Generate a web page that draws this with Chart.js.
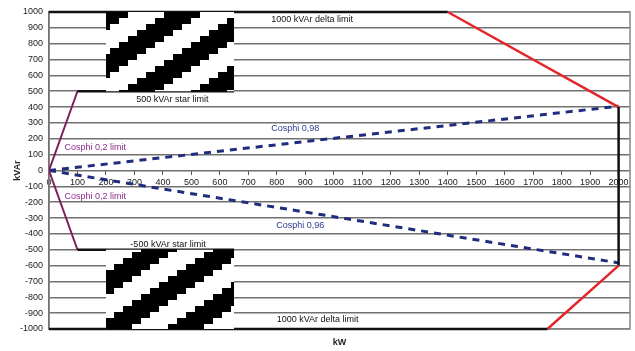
<!DOCTYPE html>
<html>
<head>
<meta charset="utf-8">
<script src="https://cdn.jsdelivr.net/npm/chart.js@4.4.0/dist/chart.umd.min.js"></script>
<style>
  html, body { margin: 0; padding: 0; background: #fff; }
  #wrap { width: 635px; height: 351px; }
</style>
</head>
<body>
<div id="wrap"><canvas id="chart" width="635" height="351"></canvas></div>
<script>
// P/Q limits (kW / kVAr)
const deltaP = [0, 1400, 2000, 2000, 1750, 0];
const deltaQ = [1000, 1000, 400, -600, -1000, -1000];
const starP = [100, 650];
const starTopQ = [500, 500];
const starBottomQ = [-500, -500];
const cos02P = [100, 0, 100];
const cos02Q = [500, 0, -500];
const cosP = [0, 2000];
const cos098Q = [0, 406];
const cos096Q = [0, -583];
const hatchP = [200, 650];
const hatchTopQ = [1000, 1000];
const hatchBottomQ = [-1000, -1000];

const xTicks = [0, 100, 200, 300, 400, 500, 600, 700, 800, 900, 1000, 1100, 1200, 1300, 1400, 1500, 1600, 1700, 1800, 1900, 2000];
const yTicks = [-1000, -900, -800, -700, -600, -500, -400, -300, -200, -100, 0, 100, 200, 300, 400, 500, 600, 700, 800, 900, 1000];

const pts = (xs, ys) => xs.map((x, i) => ({ x: x, y: ys[i] }));

const canvas = document.getElementById('chart');
const mainCtx = canvas.getContext('2d');

// stair-stepped diagonal hatch like the pasted picture
function hatchPattern(shift) {
  const c = document.createElement('canvas');
  c.width = 72; c.height = 48;
  const g = c.getContext('2d');
  g.fillStyle = '#fff';
  g.fillRect(0, 0, 72, 48);
  g.fillStyle = '#000';
  for (let r = 0; r < 8; r++) {
    const x0 = ((shift - r * 9) % 72 + 72) % 72;
    g.fillRect(x0, r * 6, 36, 6);
    g.fillRect(x0 - 72, r * 6, 36, 6);
  }
  return mainCtx.createPattern(c, 'repeat');
}

const FONT = 'Liberation Sans, Arial, sans-serif';

// text labels on the chart (data coordinates)
const notes = [
  { text: '1000 kVAr delta limit', x: 924, y: 950, color: '#111' },
  { text: '500 kVAr star limit', x: 433, y: 451, color: '#111' },
  { text: 'Cosphi 0,98', x: 865, y: 268, color: '#2b3990' },
  { text: 'Cosphi 0,2 limit', x: 162, y: 146, color: '#8e2c8e' },
  { text: 'Cosphi 0,2 limit', x: 162, y: -167, color: '#8e2c8e' },
  { text: 'Cosphi 0,96', x: 882, y: -350, color: '#2b3990' },
  { text: '-500 kVAr star limit', x: 418, y: -470, color: '#111' },
  { text: '1000 kVAr delta limit', x: 943, y: -943, color: '#111' }
];

const annotate = {
  id: 'annotate',
  beforeDatasetsDraw(chart) {
    const { ctx, chartArea: a } = chart;
    ctx.save();
    ctx.strokeStyle = '#888';
    ctx.lineWidth = 1.5;
    ctx.strokeRect(a.left, a.top, a.right - a.left, a.bottom - a.top);
    ctx.restore();
  },
  afterDatasetsDraw(chart) {
    const { ctx, chartArea: a, scales } = chart;
    ctx.save();
    ctx.font = '9px ' + FONT;
    ctx.textAlign = 'center';
    ctx.textBaseline = 'middle';
    notes.forEach(n => {
      ctx.fillStyle = n.color;
      ctx.fillText(n.text, scales.x.getPixelForValue(n.x), scales.y.getPixelForValue(n.y));
    });
    ctx.fillStyle = '#222';
    ctx.font = 'bold 9px ' + FONT;
    ctx.fillText('kW', (a.left + a.right) / 2, a.bottom + 14);
    ctx.restore();
  }
};

new Chart(canvas, {
  type: 'scatter',
  data: {
    datasets: [
      { data: pts(hatchP, hatchTopQ), showLine: true, borderWidth: 0, fill: { value: 500 }, backgroundColor: hatchPattern(38) },
      { data: pts(hatchP, hatchBottomQ), showLine: true, borderWidth: 0, fill: { value: -500 }, backgroundColor: hatchPattern(6) },
      { data: pts(deltaP, deltaQ), showLine: true, borderColor: '#111', borderWidth: 2.5, clip: false,
        segment: { borderColor: c => (c.p0DataIndex === 1 || c.p0DataIndex === 3) ? '#e3262c' : '#111' } },
      { data: pts(starP, starTopQ), showLine: true, borderColor: '#111', borderWidth: 2.5 },
      { data: pts(starP, starBottomQ), showLine: true, borderColor: '#111', borderWidth: 2.5 },
      { data: pts(cos02P, cos02Q), showLine: true, borderColor: '#7d1f5e', borderWidth: 2 },
      { data: pts(cosP, cos098Q), showLine: true, borderColor: '#1f2d7c', borderWidth: 3, borderDash: [7, 6] },
      { data: pts(cosP, cos096Q), showLine: true, borderColor: '#1f2d7c', borderWidth: 3, borderDash: [7, 6] }
    ]
  },
  options: {
    responsive: false,
    animation: false,
    layout: { padding: { top: 12, right: 5, bottom: 22, left: 0 } },
    elements: { point: { radius: 0 }, line: { tension: 0 } },
    plugins: { legend: { display: false }, tooltip: { enabled: false } },
    scales: {
      x: {
        type: 'linear', min: 0, max: 2040, position: { y: 0 },
        afterBuildTicks: s => { s.ticks = xTicks.map(v => ({ value: v })); },
        grid: { drawOnChartArea: false, drawTicks: true, tickLength: 4, color: '#555' },
        border: { display: false },
        ticks: { font: { size: 9, family: FONT }, color: '#222', padding: 3, maxRotation: 0, autoSkip: false,
                 callback: v => String(v) }
      },
      y: {
        min: -1000, max: 1000,
        afterBuildTicks: s => { s.ticks = yTicks.map(v => ({ value: v })); },
        afterFit: s => { s.width = 49; },
        grid: { color: '#707070', lineWidth: 1.6, drawTicks: false },
        border: { color: '#333', width: 1.5 },
        ticks: { font: { size: 9, family: FONT }, color: '#222', padding: 6, autoSkip: false,
                 callback: v => String(v) },
        title: { display: true, text: 'kVAr', color: '#222', font: { size: 9, weight: 'bold', family: FONT }, padding: { top: 12, bottom: 0 } }
      }
    }
  },
  plugins: [annotate]
});
</script>
</body>
</html>
